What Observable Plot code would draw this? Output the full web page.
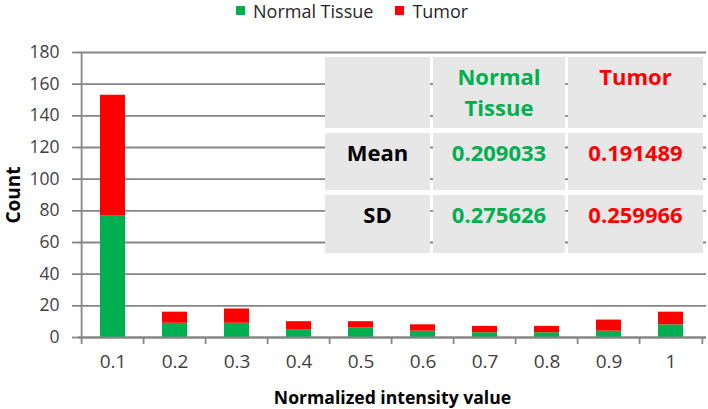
<!DOCTYPE html>
<html><head><meta charset="utf-8">
<script src="https://cdn.jsdelivr.net/npm/d3@7"></script>
<script src="https://cdn.jsdelivr.net/npm/@observablehq/plot@0.6"></script>
<style>
body{margin:0;background:#fff;font-family:"Open Sans",sans-serif;}
#wrap{position:relative;width:708px;height:409px;overflow:hidden;}
#legend{position:absolute;left:236px;top:0;height:21px;display:flex;align-items:center;font-size:18px;color:#262626;}
#legend .sw{display:inline-block;width:9px;height:9px;margin-right:8px;}
#legend .item{display:flex;align-items:center;margin-right:22px;}
#chart{position:absolute;left:0;top:24px;}
#chart svg [aria-label='y-axis tick label'] text{font-size:17.5px;fill:#404040;}
#chart svg [aria-label='x-axis tick label'] text{font-size:19px;fill:#404040;}
#chart svg [aria-label='y-axis label'] text{font-size:19px;font-weight:700;fill:#000;}
#chart svg [aria-label='x-axis label'] text{font-size:17.6px;font-weight:700;fill:#000;}
#table{position:absolute;left:325px;top:57px;display:grid;grid-template-columns:105px 132px 135px;grid-template-rows:71px 57px 58px;column-gap:3px;row-gap:5px;font-weight:700;font-size:22px;}
#table div{background:#e7e7e7;text-align:center;line-height:31px;padding-top:4px;box-sizing:border-box;}
</style>
</head><body>
<div id="wrap">
  <div id="legend"></div>
  <div id="chart"></div>
  <div id="table"></div>
</div>
<script>
const categories = ["0.1","0.2","0.3","0.4","0.5","0.6","0.7","0.8","0.9","1"];
const normalTissue = [77, 9, 9, 5, 6, 4, 3, 3, 4, 8];
const tumor = [76, 7, 9, 5, 4, 4, 4, 4, 7, 8];
const seriesNames = ["Normal Tissue", "Tumor"];
const seriesColors = ["#00b050", "#ff0000"];
const yTicks = [0, 20, 40, 60, 80, 100, 120, 140, 160, 180];
const tableHeader = ["", "Normal\nTissue", "Tumor"];
const tableRows = [["Mean", "0.209033", "0.191489"], ["SD", "0.275626", "0.259966"]];

const data = [];
categories.forEach((c, i) => {
  data.push({cat: c, series: seriesNames[0], value: normalTissue[i]});
  data.push({cat: c, series: seriesNames[1], value: tumor[i]});
});

const W = 708, H = 385, ML = 78, MR = 2, MT = 28, MB = 72;
const step = (W - ML - MR) / categories.length;
const axisColor = "#868686";

const chart = Plot.plot({
  width: W, height: H,
  marginLeft: ML, marginRight: MR, marginTop: MT, marginBottom: MB,
  style: {fontFamily: "Open Sans, sans-serif", background: "#fff"},
  x: {domain: categories, paddingInner: 0.59, paddingOuter: 0.295},
  y: {domain: [0, 180]},
  color: {domain: seriesNames, range: seriesColors},
  marks: [
    Plot.gridY(yTicks, {stroke: axisColor, strokeOpacity: 1, strokeWidth: 1.8}),
    Plot.barY(data, {x: "cat", y: "value", fill: "series", order: seriesNames}),
    Plot.ruleY([0], {stroke: axisColor, strokeWidth: 1.8}),
    Plot.ruleX([categories[0]], {dx: -step / 2, y1: 0, y2: 180, stroke: axisColor, strokeWidth: 1.8}),
    Plot.ruleX(categories, {dx: -step / 2, y1: 0, y2: -4.4, stroke: axisColor, strokeWidth: 1.8}),
    Plot.ruleX([categories[categories.length - 1]], {dx: step / 2, y1: 0, y2: -4.4, stroke: axisColor, strokeWidth: 1.8}),
    Plot.axisY(yTicks, {tickSize: 6, tickPadding: 13, stroke: axisColor, strokeWidth: 1.8,
      label: "Count", labelAnchor: "center", labelOffset: 72, labelArrow: "none"}),
    Plot.axisX({tickSize: 0, tickPadding: 17,
      label: "Normalized intensity value", labelAnchor: "center", labelOffset: 66, labelArrow: "none"})
  ]
});
document.getElementById("chart").appendChild(chart);

// legend
const legend = document.getElementById("legend");
seriesNames.forEach((s, i) => {
  const it = document.createElement("span"); it.className = "item";
  const sw = document.createElement("span"); sw.className = "sw"; sw.style.background = seriesColors[i];
  it.appendChild(sw); it.appendChild(document.createTextNode(s));
  legend.appendChild(it);
});

// stats table
const table = document.getElementById("table");
const colColor = ["#000", seriesColors[0], seriesColors[1]];
tableHeader.forEach((h, j) => {
  const d = document.createElement("div"); d.style.color = colColor[j];
  d.innerHTML = h.split("\n").join("<br>"); table.appendChild(d);
});
tableRows.forEach(r => r.forEach((v, j) => {
  const d = document.createElement("div"); d.style.color = colColor[j]; d.textContent = v; table.appendChild(d);
}));
</script>
</body></html>
